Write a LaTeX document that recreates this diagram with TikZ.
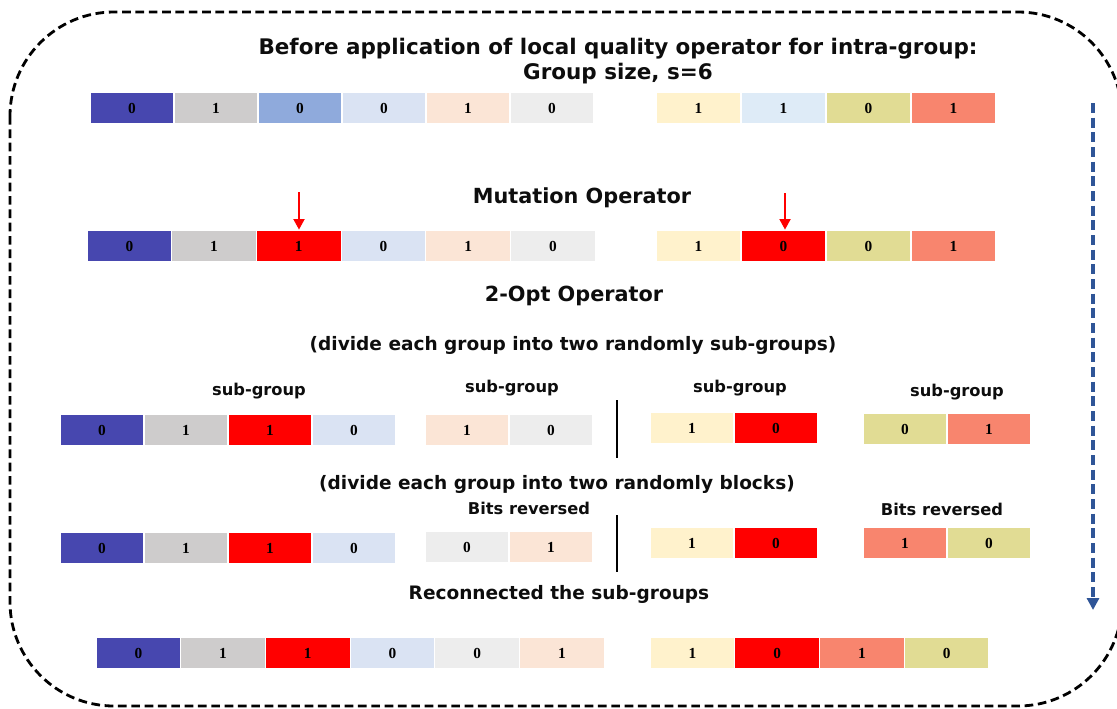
\documentclass[tikz,border=0pt]{standalone}
\usepackage{fontspec}
\setmainfont{DejaVu Sans}
\newfontfamily\numfont{Liberation Serif}
\usetikzlibrary{arrows.meta}
\definecolor{cblue}{RGB}{71,71,175}
\definecolor{cgrey}{RGB}{206,204,204}
\definecolor{cmblue}{RGB}{143,170,220}
\definecolor{clblue}{RGB}{218,227,243}
\definecolor{cpeach}{RGB}{251,229,214}
\definecolor{clgrey}{RGB}{237,237,237}
\definecolor{ccream}{RGB}{255,242,204}
\definecolor{cpblue}{RGB}{222,235,247}
\definecolor{colive}{RGB}{225,220,148}
\definecolor{csalmon}{RGB}{248,133,110}
\definecolor{cred}{RGB}{255,0,0}
\definecolor{arrowblue}{RGB}{47,85,151}
\definecolor{txt}{RGB}{13,13,13}
\tikzset{
  cell/.style={draw=white, line width=0.9pt, inner sep=0pt, minimum height=23.5pt,
    font=\numfont\bfseries\fontsize{11.5}{13}\selectfont},
  heading/.style={font=\bfseries\fontsize{15.6}{18}\selectfont, text=txt, inner sep=0pt},
  titletext/.style={font=\bfseries\fontsize{16.1}{18.75}\selectfont, text=txt, align=center, inner sep=0pt},
  subtext/.style={font=\bfseries\fontsize{13.9}{16}\selectfont, text=txt, inner sep=0pt},
  smalltext/.style={font=\bfseries\fontsize{12.2}{14}\selectfont, text=txt, inner sep=0pt},
  mutarrow/.style={draw=cred, line width=2.2pt, -{Triangle[length=8pt,width=8pt]}},
  divider/.style={draw=black, line width=2.2pt},
  flowarrow/.style={draw=arrowblue, line width=2.3pt, dash pattern=on 7.5pt off 3.5pt, -{Triangle[length=9pt,width=9pt]}},
  frame/.style={draw=black, line width=2.1pt, dash pattern=on 6.5pt off 3.5pt}
}
\newcommand\cellrow[5]{%
  \foreach \cc/\dd [count=\i] in {#5} {
    \node[cell, fill=\cc, minimum width=#4*0.75pt] (#1\i) at ({#2+(\i-0.5)*#4},#3) {\dd};
  }}
\begin{document}
\begin{tikzpicture}[x=0.75pt,y=-0.75pt]
\useasboundingbox (0,0) rectangle (1117,708);
\clip (0,0) rectangle (1117,708);
\draw[frame, rounded corners=78pt] (10,12) rectangle (1122,706);

\node[titletext] (title) at (618,61) {Before application of local quality operator for intra-group:\\Group size, s=6};

\cellrow{a}{90}{108}{84}{cblue/0,cgrey/1,cmblue/0,clblue/0,cpeach/1,clgrey/0}
\cellrow{b}{656}{108}{85}{ccream/1,cpblue/1,colive/0,csalmon/1}

\node[heading] (mut) at (582,198) {Mutation Operator};
\cellrow{c}{87}{246}{84.7}{cblue/0,cgrey/1,cred/1,clblue/0,cpeach/1,clgrey/0}
\cellrow{d}{656}{246}{85}{ccream/1,cred/0,colive/0,csalmon/1}
\coordinate (ma) at (299,192);
\coordinate (mb) at (785,193);
\draw[mutarrow] (ma) -- (ma |- c3.north);
\draw[mutarrow] (mb) -- (mb |- d2.north);

\node[heading] (opt) at (574,296) {2-Opt Operator};
\node[subtext] (div1) at (573,345) {(divide each group into two randomly sub-groups)};

\node[smalltext] (sg1) at (259,391) {sub-group};
\node[smalltext] (sg2) at (512,388) {sub-group};
\node[smalltext] (sg3) at (740,388) {sub-group};
\node[smalltext] (sg4) at (957,392) {sub-group};
\cellrow{e}{60}{430}{84}{cblue/0,cgrey/1,cred/1,clblue/0}
\cellrow{f}{425}{430}{84}{cpeach/1,clgrey/0}
\cellrow{g}{650}{428}{84}{ccream/1,cred/0}
\cellrow{h}{863}{429}{84}{colive/0,csalmon/1}
\coordinate (v1a) at (617,400);
\coordinate (v1b) at (617,458);
\draw[divider] (v1a) -- (v1b);

\node[subtext] (div2) at (557,484) {(divide each group into two randomly blocks)};
\node[smalltext] (br1) at (529,508) {Bits reversed};
\node[smalltext] (br2) at (942,509) {Bits reversed};
\cellrow{i}{60}{548}{84}{cblue/0,cgrey/1,cred/1,clblue/0}
\cellrow{j}{425}{547}{84}{clgrey/0,cpeach/1}
\cellrow{k}{650}{543}{84}{ccream/1,cred/0}
\cellrow{l}{863}{543}{84}{csalmon/1,colive/0}
\coordinate (v2a) at (617,515);
\coordinate (v2b) at (617,572);
\draw[divider] (v2a) -- (v2b);

\node[subtext] (recon) at (559,594) {Reconnected the sub-groups};
\cellrow{m}{96}{653}{84.7}{cblue/0,cgrey/1,cred/1,clblue/0,clgrey/0,cpeach/1}
\cellrow{n}{650}{653}{84.75}{ccream/1,cred/0,csalmon/1,colive/0}

\coordinate (fa) at (1093,103);
\coordinate (fb) at (1093,610);
\draw[flowarrow] (fa) -- (fb);
\end{tikzpicture}
\end{document}
